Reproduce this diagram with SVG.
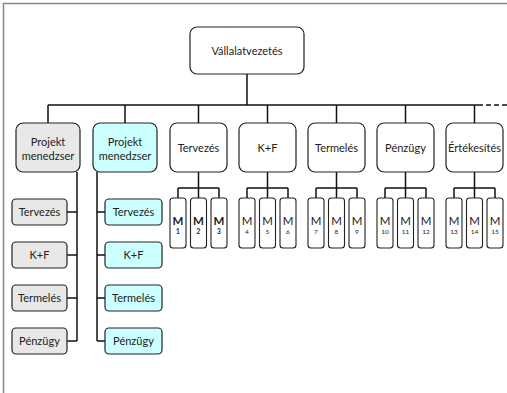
<svg xmlns="http://www.w3.org/2000/svg" width="507" height="393" viewBox="0 0 507 393">
<style>
text{font-family:Lato,"Open Sans","DejaVu Sans",sans-serif;fill:#222;text-anchor:middle}
.t{font-size:11px}
.n rect{stroke:#222;stroke-width:1.2}
.w{fill:#fff}.g{fill:#e8e8e8}.c{fill:#ccffff}
.m rect{fill:#fff;stroke:#222;stroke-width:1.1}
.mm{font-size:11.5px}.mn{font-size:6.5px}
.b{font-weight:bold}
#conn path{fill:none;stroke:#111;stroke-width:1.5}
</style>
<g id="frame"><path d="M3.5 393V3.5H507" fill="none" stroke="#888" stroke-width="1.5"/></g>
<g id="conn">
<path d="M247 74V105M48 105H478M48 105V123M125 105V123M198.5 105V123M267.5 105V123M336.5 105V123M405.5 105V123M474.5 105V123"/>
<path d="M478 105H507" stroke-width="2.2" stroke-dasharray="5,3"/>
<path d="M77 172V341M67 212H77M67 255H77M67 298H77M67 341H77"/>
<path d="M97 172V341M97 212H105M97 255H105M97 298H105M97 341H105"/>
<path d="M198.5 172V188M178 188H219M178 188V198M198.5 188V198M219 188V198"/>
<path d="M267.5 172V188M247 188H288M247 188V198M267.5 188V198M288 188V198"/>
<path d="M336.5 172V188M316 188H357M316 188V198M336.5 188V198M357 188V198"/>
<path d="M405.5 172V188M385 188H426M385 188V198M405.5 188V198M426 188V198"/>
<path d="M474.5 172V188M454 188H495M454 188V198M474.5 188V198M495 188V198"/>
</g>
<g id="top" class="n"><rect class="w" x="190" y="27" width="114" height="47" rx="7"/><text class="t" x="247" y="54.5">Vállalatvezetés</text></g>
<g id="pm1" class="n"><rect class="g" x="16" y="123" width="64" height="49" rx="7"/><text class="t" x="48" y="146">Projekt</text><text class="t" x="48" y="160">menedzser</text></g>
<g id="pm2" class="n"><rect class="c" x="93" y="123" width="64" height="49" rx="7"/><text class="t" x="125" y="146">Projekt</text><text class="t" x="125" y="160">menedzser</text></g>
<g id="d1" class="n"><rect class="w" x="170" y="123" width="57" height="49" rx="7"/><text class="t" x="198.5" y="152">Tervezés</text></g>
<g id="d2" class="n"><rect class="w" x="239" y="123" width="57" height="49" rx="7"/><text class="t" x="267.5" y="152">K+F</text></g>
<g id="d3" class="n"><rect class="w" x="308" y="123" width="57" height="49" rx="7"/><text class="t" x="336.5" y="152">Termelés</text></g>
<g id="d4" class="n"><rect class="w" x="377" y="123" width="57" height="49" rx="7"/><text class="t" x="405.5" y="152">Pénzügy</text></g>
<g id="d5" class="n"><rect class="w" x="446" y="123" width="57" height="49" rx="7"/><text class="t" x="474.5" y="152">Értékesítés</text></g>
<g id="g1" class="n"><rect class="g" x="12" y="199" width="55" height="26" rx="4"/><text class="t" x="39.5" y="216">Tervezés</text></g>
<g id="g2" class="n"><rect class="g" x="12" y="242" width="55" height="26" rx="4"/><text class="t" x="39.5" y="259">K+F</text></g>
<g id="g3" class="n"><rect class="g" x="12" y="285" width="55" height="26" rx="4"/><text class="t" x="39.5" y="302">Termelés</text></g>
<g id="g4" class="n"><rect class="g" x="12" y="328" width="55" height="26" rx="4"/><text class="t" x="39.5" y="345">Pénzügy</text></g>
<g id="c1" class="n"><rect class="c" x="105" y="199" width="57" height="26" rx="4"/><text class="t" x="133.5" y="216">Tervezés</text></g>
<g id="c2" class="n"><rect class="c" x="105" y="242" width="57" height="26" rx="4"/><text class="t" x="133.5" y="259">K+F</text></g>
<g id="c3" class="n"><rect class="c" x="105" y="285" width="57" height="26" rx="4"/><text class="t" x="133.5" y="302">Termelés</text></g>
<g id="c4" class="n"><rect class="c" x="105" y="328" width="57" height="26" rx="4"/><text class="t" x="133.5" y="345">Pénzügy</text></g>
<g id="m1" class="m"><rect x="170" y="198" width="16" height="50" rx="3"/><text class="mm b" x="178" y="225">M</text><text class="mn b" x="178" y="234">1</text></g>
<g id="m2" class="m"><rect x="190.5" y="198" width="16" height="50" rx="3"/><text class="mm b" x="198.5" y="225">M</text><text class="mn b" x="198.5" y="234">2</text></g>
<g id="m3" class="m"><rect x="211" y="198" width="16" height="50" rx="3"/><text class="mm b" x="219" y="225">M</text><text class="mn b" x="219" y="234">3</text></g>
<g id="m4" class="m"><rect x="239" y="198" width="16" height="50" rx="3"/><text class="mm" x="247" y="225">M</text><text class="mn" x="247" y="234">4</text></g>
<g id="m5" class="m"><rect x="259.5" y="198" width="16" height="50" rx="3"/><text class="mm" x="267.5" y="225">M</text><text class="mn" x="267.5" y="234">5</text></g>
<g id="m6" class="m"><rect x="280" y="198" width="16" height="50" rx="3"/><text class="mm" x="288" y="225">M</text><text class="mn" x="288" y="234">6</text></g>
<g id="m7" class="m"><rect x="308" y="198" width="16" height="50" rx="3"/><text class="mm" x="316" y="225">M</text><text class="mn" x="316" y="234">7</text></g>
<g id="m8" class="m"><rect x="328.5" y="198" width="16" height="50" rx="3"/><text class="mm" x="336.5" y="225">M</text><text class="mn" x="336.5" y="234">8</text></g>
<g id="m9" class="m"><rect x="349" y="198" width="16" height="50" rx="3"/><text class="mm" x="357" y="225">M</text><text class="mn" x="357" y="234">9</text></g>
<g id="m10" class="m"><rect x="377" y="198" width="16" height="50" rx="3"/><text class="mm" x="385" y="225">M</text><text class="mn" x="385" y="234">10</text></g>
<g id="m11" class="m"><rect x="397.5" y="198" width="16" height="50" rx="3"/><text class="mm" x="405.5" y="225">M</text><text class="mn" x="405.5" y="234">11</text></g>
<g id="m12" class="m"><rect x="418" y="198" width="16" height="50" rx="3"/><text class="mm" x="426" y="225">M</text><text class="mn" x="426" y="234">12</text></g>
<g id="m13" class="m"><rect x="446" y="198" width="16" height="50" rx="3"/><text class="mm" x="454" y="225">M</text><text class="mn" x="454" y="234">13</text></g>
<g id="m14" class="m"><rect x="466.5" y="198" width="16" height="50" rx="3"/><text class="mm" x="474.5" y="225">M</text><text class="mn" x="474.5" y="234">14</text></g>
<g id="m15" class="m"><rect x="487" y="198" width="16" height="50" rx="3"/><text class="mm" x="495" y="225">M</text><text class="mn" x="495" y="234">15</text></g>
</svg>
